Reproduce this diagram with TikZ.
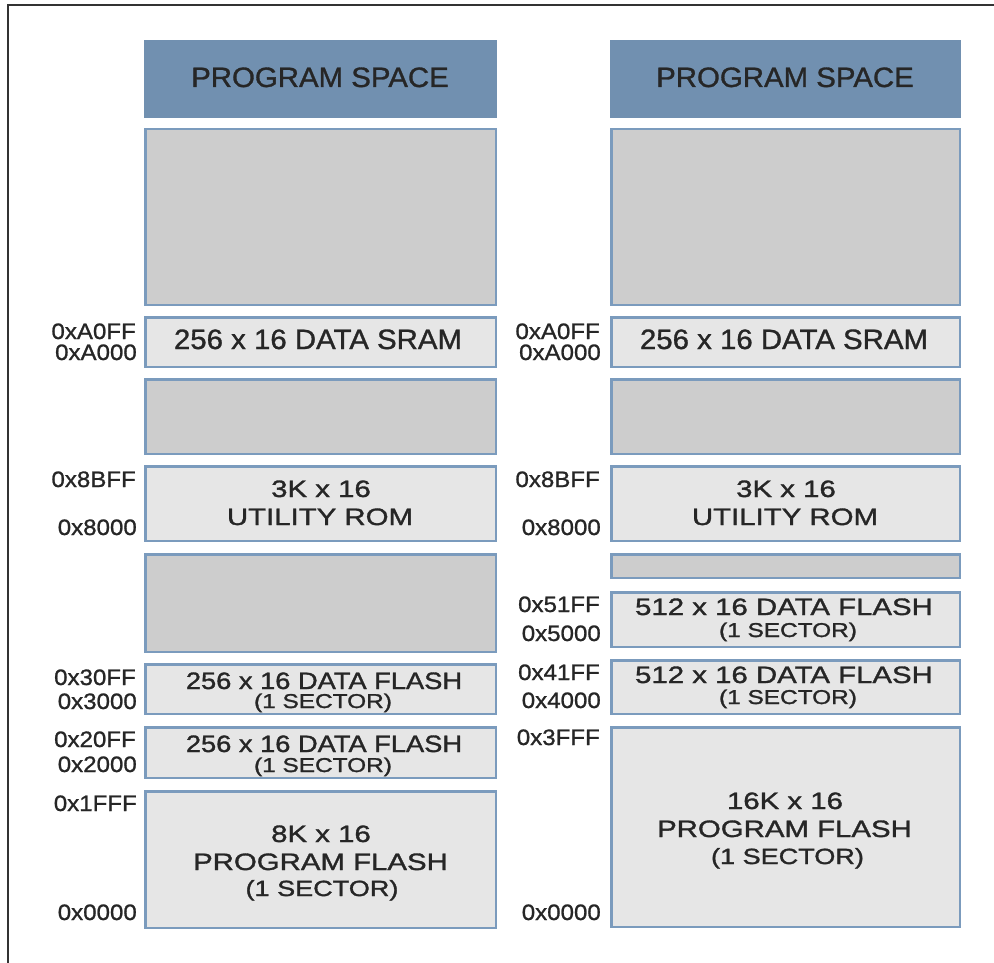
\documentclass[tikz,border=0pt]{standalone}
\usepackage{fontspec}
\setmainfont{Liberation Sans}
\definecolor{hdrblue}{HTML}{7190B0}
\definecolor{edge}{HTML}{7B9BBD}
\definecolor{freefill}{HTML}{CDCDCD}
\definecolor{usedfill}{HTML}{E6E6E6}
\definecolor{txt}{HTML}{262626}
\definecolor{frame}{HTML}{333333}
\newcommand\memblk[6]{\node[#2, minimum width={#5-#3-2.5}, minimum height={#6-#4-2.5}] (#1) at ({(#3+#5)/2},{(#4+#6)/2}) {};}
\newcommand\hdrblk[5]{\node[hdr, minimum width={#4-#2}, minimum height={#5-#3}] (#1) at ({(#2+#4)/2},{(#3+#5)/2}) {};}
\newcommand\txtfont[3]{\fontsize{#1}{#1}\selectfont\addfontfeature{FakeStretch=#2,FakeBold=#3}}
\begin{document}
\begin{tikzpicture}[x=1pt,y=-1pt,
  hdr/.style={fill=hdrblue, draw=none, inner sep=0pt, outer sep=0pt},
  used/.style={fill=usedfill, draw=edge, line width=2.5pt, inner sep=0pt, outer sep=0pt},
  free/.style={fill=freefill, draw=edge, line width=2.5pt, inner sep=0pt, outer sep=0pt},
  big/.style={anchor=base, inner sep=0pt, text=txt, font=\txtfont{28}{1.05}{1.1}},
  lbl/.style={anchor=base, inner sep=0pt, text=txt, font=\txtfont{23.7}{1.24}{1.4}},
  lbls/.style={anchor=base, inner sep=0pt, text=txt, font=\txtfont{23.7}{1.15}{1.4}},
  sub/.style={anchor=base, inner sep=0pt, text=txt, font=\txtfont{20}{1.22}{1.4}},
  subl/.style={anchor=base, inner sep=0pt, text=txt, font=\txtfont{22}{1.23}{1.4}},
  addr/.style={anchor=base east, inner sep=0pt, text=txt, font=\txtfont{22.3}{1.08}{1.0}},
  frameline/.style={draw=frame, line width=2pt}
]
\useasboundingbox (0,0) rectangle (994,963);
\fill[white] (0,0) rectangle (994,963);
% frame (top and left edges)
\coordinate (fTR) at (994,5);
\coordinate (fTL) at (8,5);
\coordinate (fBL) at (8,963);
\draw[frameline] (fTR) -- (fTL) -- (fBL);

% ---------- left column ----------
\hdrblk{hL}{144}{40}{497}{118}
\memblk{g1L}{free}{144}{128}{497}{306}
\memblk{sramL}{used}{144}{316}{497}{368}
\memblk{g2L}{free}{144}{378}{497}{455}
\memblk{romL}{used}{144}{465}{497}{542}
\memblk{g3L}{free}{144}{553}{497}{653}
\memblk{df3L}{used}{144}{663}{497}{715}
\memblk{df2L}{used}{144}{726}{497}{779}
\memblk{pfL}{used}{144}{790}{497}{929}

\node[big] (thL) at (320,87) {PROGRAM SPACE};
\node[big] (tsramL) at (318,349) {256 x 16 DATA SRAM};
\node[lbl] (trom1L) at (321,497) {3K x 16};
\node[lbl] (trom2L) at (320,525) {UTILITY ROM};
\node[lbls] (tdf3aL) at (324,689) {256 x 16 DATA FLASH};
\node[sub] (tdf3bL) at (323,708) {(1 SECTOR)};
\node[lbls] (tdf2aL) at (324,752) {256 x 16 DATA FLASH};
\node[sub] (tdf2bL) at (323,772) {(1 SECTOR)};
\node[lbl] (tpf1L) at (321,842) {8K x 16};
\node[lbl] (tpf2L) at (320.5,870) {PROGRAM FLASH};
\node[subl] (tpf3L) at (322,896) {(1 SECTOR)};

\node[addr] (aA0FFL) at (136,339) {0xA0FF};
\node[addr] (aA000L) at (137,360) {0xA000};
\node[addr] (a8BFFL) at (136,487) {0x8BFF};
\node[addr] (a8000L) at (137,535) {0x8000};
\node[addr] (a30FFL) at (136,685) {0x30FF};
\node[addr] (a3000L) at (137,709) {0x3000};
\node[addr] (a20FFL) at (136,747) {0x20FF};
\node[addr] (a2000L) at (137,772) {0x2000};
\node[addr] (a1FFFL) at (137,811) {0x1FFF};
\node[addr] (a0000L) at (137,920) {0x0000};

% ---------- right column ----------
\hdrblk{hR}{610}{40}{961}{118}
\memblk{g1R}{free}{610}{128}{961}{306}
\memblk{sramR}{used}{610}{316}{961}{368}
\memblk{g2R}{free}{610}{378}{961}{455}
\memblk{romR}{used}{610}{465}{961}{542}
\memblk{g3R}{free}{610}{553}{961}{579}
\memblk{df5R}{used}{610}{591}{961}{648}
\memblk{df4R}{used}{610}{659}{961}{715}
\memblk{pfR}{used}{610}{726}{961}{928}

\node[big] (thR) at (785,87) {PROGRAM SPACE};
\node[big] (tsramR) at (784,349) {256 x 16 DATA SRAM};
\node[lbl] (trom1R) at (786,497) {3K x 16};
\node[lbl] (trom2R) at (785,525) {UTILITY ROM};
\node[lbl] (tdf5aR) at (784,615) {512 x 16 DATA FLASH};
\node[sub] (tdf5bR) at (788,637) {(1 SECTOR)};
\node[lbl] (tdf4aR) at (784,683) {512 x 16 DATA FLASH};
\node[sub] (tdf4bR) at (788,704) {(1 SECTOR)};
\node[lbl] (tpf1R) at (785,809) {16K x 16};
\node[lbl] (tpf2R) at (784.5,837) {PROGRAM FLASH};
\node[subl] (tpf3R) at (787.5,864) {(1 SECTOR)};

\node[addr] (aA0FFR) at (600,339) {0xA0FF};
\node[addr] (aA000R) at (601,360) {0xA000};
\node[addr] (a8BFFR) at (600,487) {0x8BFF};
\node[addr] (a8000R) at (601,535) {0x8000};
\node[addr] (a51FFR) at (600,612) {0x51FF};
\node[addr] (a5000R) at (601,641) {0x5000};
\node[addr] (a41FFR) at (600,680) {0x41FF};
\node[addr] (a4000R) at (601,708) {0x4000};
\node[addr] (a3FFFR) at (600,745) {0x3FFF};
\node[addr] (a0000R) at (601,920) {0x0000};
\end{tikzpicture}
\end{document}
